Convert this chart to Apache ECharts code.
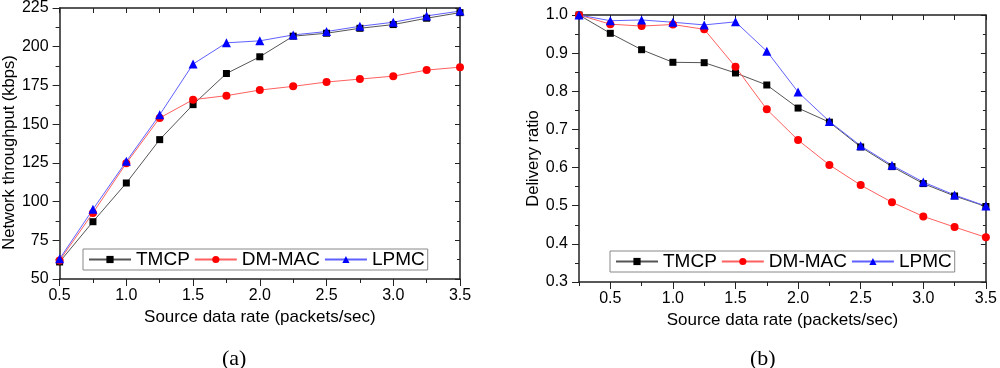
<!DOCTYPE html>
<html>
<head>
<meta charset="utf-8">
<script src="https://cdn.jsdelivr.net/npm/echarts@6/dist/echarts.min.js"></script>
<style>
html,body{margin:0;padding:0;background:#fff;}
#chart{width:1000px;height:368px;}
</style>
</head>
<body>
<div id="chart"></div>
<script>
// ---- data ----
const seriesNames = ['TMCP', 'DM-MAC', 'LPMC'];
const rateA = [0.5, 0.75, 1.0, 1.25, 1.5, 1.75, 2.0, 2.25, 2.5, 2.75, 3.0, 3.25, 3.5];
const tmcpThroughput = [61, 87, 112, 140, 162.6, 182.7, 193.5, 206.8, 208.7, 211.9, 214.3, 218.4, 222];
const dmmacThroughput = [62, 92.7, 124.8, 154, 165.8, 168.4, 172, 174.4, 177.2, 179.1, 181, 184.9, 186.8];
const lpmcThroughput = [63, 95, 126, 156, 188.8, 202.5, 203.8, 207.6, 209.8, 213.2, 215.8, 219.9, 223];

const rateB = [0.25, 0.5, 0.75, 1.0, 1.25, 1.5, 1.75, 2.0, 2.25, 2.5, 2.75, 3.0, 3.25, 3.5];
const tmcpDelivery = [1.0, 0.952, 0.909, 0.876, 0.875, 0.848, 0.8165, 0.756, 0.719, 0.654, 0.6025, 0.558, 0.5255, 0.498];
const dmmacDelivery = [1.0, 0.976, 0.971, 0.975, 0.9625, 0.864, 0.7526, 0.672, 0.607, 0.554, 0.509, 0.472, 0.444, 0.417];
const lpmcDelivery = [1.0, 0.985, 0.987, 0.981, 0.974, 0.982, 0.905, 0.798, 0.721, 0.657, 0.606, 0.562, 0.528, 0.499];

const xLabelTicksB = [0.5, 1.0, 1.5, 2.0, 2.5, 3.0, 3.5];

const xTitle = 'Source data rate (packets/sec)';
const yTitleA = 'Network throughput (kbps)';
const yTitleB = 'Delivery ratio';

// ---- styles ----
const FONT = 'Liberation Sans, Arial, sans-serif';
const AX = '#222';
const styles = {
  'TMCP':   {marker: '#000000', line: '#555555', symbol: 'rect', size: 7},
  'DM-MAC': {marker: '#ff0000', line: '#ff6060', symbol: 'circle', size: 8},
  'LPMC':   {marker: '#0000ff', line: '#6060ff', symbol: 'triangle', size: 9}
};

function pairs(xs, ys) { return xs.map((x, i) => [x, ys[i]]); }

function mkSeries(name, xs, ys, xi, yi) {
  const s = styles[name];
  return {
    name: name, type: 'line', xAxisIndex: xi, yAxisIndex: yi,
    data: pairs(xs, ys), symbol: s.symbol, symbolSize: s.size,
    showSymbol: true, clip: false, animation: false,
    itemStyle: {color: s.marker},
    lineStyle: {color: s.line, width: 1}
  };
}

const axisLineS = {show: true, onZero: false, lineStyle: {color: AX, width: 1.5}};

function bottomAxis(grid, min, max, interval, extra) {
  return Object.assign({
    gridIndex: grid, type: 'value', position: 'bottom', min: min, max: max, interval: interval,
    axisLine: axisLineS,
    axisTick: {show: true, inside: false, length: 7, lineStyle: {color: AX, width: 1}},
    minorTick: {show: true, splitNumber: 2, length: 4, lineStyle: {color: AX, width: 1}},
    axisLabel: {show: true, color: '#000', fontSize: 16, fontFamily: FONT, margin: 9,
      formatter: v => v.toFixed(1)},
    splitLine: {show: false},
    name: xTitle, nameLocation: 'middle', nameGap: 30,
    nameTextStyle: {color: '#000', fontSize: 17, fontFamily: FONT}
  }, extra || {});
}

function topAxis(grid, min, max) {
  return {
    gridIndex: grid, type: 'value', position: 'top', min: min, max: max, interval: 0.25,
    axisLine: axisLineS,
    axisTick: {show: true, inside: true, length: 5, lineStyle: {color: AX, width: 1}},
    axisLabel: {show: false}, splitLine: {show: false}
  };
}

const option = {
  backgroundColor: '#fff',
  animation: false,
  grid: [
    {left: 58, top: 7, width: 402, height: 272},
    {left: 579, top: 15, width: 410, height: 267}
  ],
  xAxis: [
    bottomAxis(0, 0.5, 3.5, 0.5),
    topAxis(0, 0.5, 3.5),
    bottomAxis(1, 0.25, 3.5, 0.25, {
      axisTick: {show: true, inside: false, length: 4, lineStyle: {color: AX, width: 1}},
      minorTick: {show: false},
      axisLabel: {show: true, color: '#000', fontSize: 16, fontFamily: FONT, margin: 9,
        customValues: xLabelTicksB, formatter: v => v.toFixed(1)}
    }),
    topAxis(1, 0.25, 3.5),
    {
      gridIndex: 1, type: 'value', position: 'bottom', min: 0.25, max: 3.5, interval: 0.25,
      axisLine: {show: false},
      axisTick: {show: true, inside: false, length: 7, customValues: xLabelTicksB, lineStyle: {color: AX, width: 1}},
      axisLabel: {show: false}, splitLine: {show: false}
    }
  ],
  yAxis: [
    {
      gridIndex: 0, type: 'value', position: 'left', min: 50, max: 225, interval: 25,
      axisLine: axisLineS,
      axisTick: {show: true, inside: false, length: 7, lineStyle: {color: AX, width: 1}},
      minorTick: {show: true, splitNumber: 2, length: 4, lineStyle: {color: AX, width: 1}},
      axisLabel: {color: '#000', fontSize: 16, fontFamily: FONT, margin: 11},
      splitLine: {show: false},
      name: yTitleA, nameLocation: 'middle', nameGap: 34, nameRotate: 90,
      nameTextStyle: {color: '#000', fontSize: 16.5, fontFamily: FONT, padding: [0, 18, 0, 0]}
    },
    {
      gridIndex: 0, type: 'value', position: 'right', min: 50, max: 225, interval: 25,
      axisLine: axisLineS,
      axisTick: {show: true, inside: true, length: 5, lineStyle: {color: AX, width: 1}},
      minorTick: {show: true, splitNumber: 2, length: 3, lineStyle: {color: AX, width: 1}},
      axisLabel: {show: false}, splitLine: {show: false}
    },
    {
      gridIndex: 1, type: 'value', position: 'left', min: 0.3, max: 1.0, interval: 0.1,
      axisLine: axisLineS,
      axisTick: {show: true, inside: false, length: 7, lineStyle: {color: AX, width: 1}},
      minorTick: {show: true, splitNumber: 2, length: 4, lineStyle: {color: AX, width: 1}},
      axisLabel: {color: '#000', fontSize: 16, fontFamily: FONT, margin: 11, formatter: v => v.toFixed(1)},
      splitLine: {show: false},
      name: yTitleB, nameLocation: 'middle', nameGap: 34, nameRotate: 90,
      nameTextStyle: {color: '#000', fontSize: 16.5, fontFamily: FONT, padding: [0, 20, 0, 0]}
    },
    {
      gridIndex: 1, type: 'value', position: 'right', min: 0.3, max: 1.0, interval: 0.1,
      axisLine: axisLineS,
      axisTick: {show: true, inside: true, length: 5, lineStyle: {color: AX, width: 1}},
      minorTick: {show: true, splitNumber: 2, length: 3, lineStyle: {color: AX, width: 1}},
      axisLabel: {show: false}, splitLine: {show: false}
    }
  ],
  legend: [
    {
      data: seriesNames, left: 83, top: 249, orient: 'horizontal',
      itemWidth: 42, itemHeight: 9, itemGap: 4,
      padding: [1, 3, 1, 5],
      borderColor: '#888', borderWidth: 1, selectedMode: false,
      textStyle: {color: '#000', fontSize: 19, fontFamily: FONT}
    },
    {
      data: seriesNames, left: 610, top: 251, orient: 'horizontal',
      itemWidth: 42, itemHeight: 9, itemGap: 4,
      padding: [1, 3, 1, 5],
      borderColor: '#888', borderWidth: 1, selectedMode: false,
      textStyle: {color: '#000', fontSize: 19, fontFamily: FONT}
    }
  ],
  graphic: [
    {type: 'text', left: 222, top: 348, style: {text: '(a)', font: '22px "Liberation Serif", "Times New Roman", serif', fill: '#000'}},
    {type: 'text', left: 750, top: 348, style: {text: '(b)', font: '22px "Liberation Serif", "Times New Roman", serif', fill: '#000'}}
  ],
  series: [
    mkSeries('TMCP', rateA, tmcpThroughput, 0, 0),
    mkSeries('DM-MAC', rateA, dmmacThroughput, 0, 0),
    mkSeries('LPMC', rateA, lpmcThroughput, 0, 0),
    mkSeries('TMCP', rateB, tmcpDelivery, 2, 2),
    mkSeries('DM-MAC', rateB, dmmacDelivery, 2, 2),
    mkSeries('LPMC', rateB, lpmcDelivery, 2, 2)
  ]
};

const chart = echarts.init(document.getElementById('chart'), null, {renderer: 'canvas'});
chart.setOption(option);
</script>
</body>
</html>
